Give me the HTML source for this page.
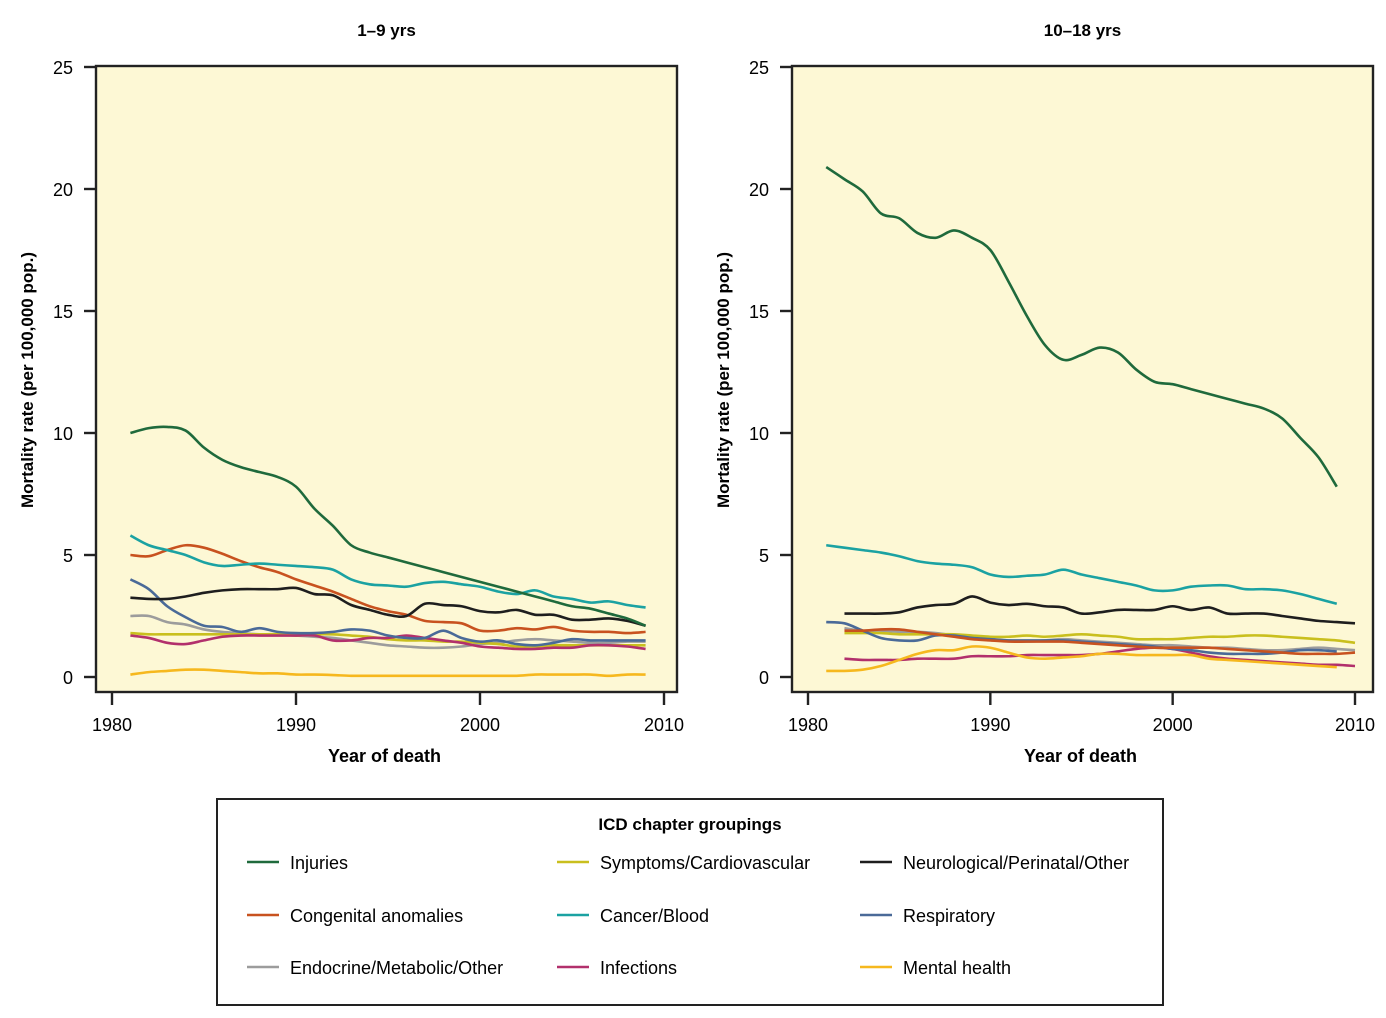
<!DOCTYPE html>
<html><head><meta charset="utf-8">
<style>
body{margin:0;background:#fff;width:1386px;height:1013px;overflow:hidden;font-family:"Liberation Sans",sans-serif;}
svg text{font-family:"Liberation Sans",sans-serif;}
</style></head>
<body>
<svg id="chart" width="1386" height="1013" xmlns="http://www.w3.org/2000/svg"></svg>
<script>
const years1=[1981,1982,1983,1984,1985,1986,1987,1988,1989,1990,1991,1992,1993,1994,1995,1996,1997,1998,1999,2000,2001,2002,2003,2004,2005,2006,2007,2008,2009];
const years2=[1981,1982,1983,1984,1985,1986,1987,1988,1989,1990,1991,1992,1993,1994,1995,1996,1997,1998,1999,2000,2001,2002,2003,2004,2005,2006,2007,2008,2009,2010];
const xTicks=[1980,1990,2000,2010];
const yTicks=[0,5,10,15,20,25];
const seriesNames=["Injuries","Symptoms/Cardiovascular","Neurological/Perinatal/Other","Congenital anomalies","Cancer/Blood","Respiratory","Endocrine/Metabolic/Other","Infections","Mental health"];
const seriesColors=["#1f6a3c","#c9bf1e","#1e1e1e","#c8521f","#1ba2a2","#4a6a98","#9c9c9c","#b2306c","#f6b81e"];
const left={
"Injuries":[10.0,10.2,10.25,10.1,9.4,8.9,8.6,8.4,8.2,7.8,6.9,6.2,5.4,5.1,4.9,4.7,4.5,4.3,4.1,3.9,3.7,3.5,3.3,3.1,2.9,2.8,2.6,2.4,2.1],
"Cancer/Blood":[5.8,5.4,5.2,5.0,4.7,4.55,4.6,4.65,4.6,4.55,4.5,4.4,4.0,3.8,3.75,3.7,3.85,3.9,3.8,3.7,3.5,3.4,3.55,3.3,3.2,3.05,3.1,2.95,2.85],
"Congenital anomalies":[5.0,4.95,5.2,5.4,5.3,5.05,4.75,4.5,4.3,4.0,3.75,3.5,3.2,2.9,2.7,2.55,2.3,2.25,2.2,1.9,1.9,2.0,1.95,2.05,1.9,1.85,1.85,1.8,1.85],
"Neurological/Perinatal/Other":[3.25,3.2,3.2,3.3,3.45,3.55,3.6,3.6,3.6,3.65,3.4,3.35,2.95,2.75,2.55,2.5,3.0,2.95,2.9,2.7,2.65,2.75,2.55,2.55,2.35,2.35,2.4,2.3,2.1],
"Respiratory":[4.0,3.6,2.9,2.45,2.1,2.05,1.85,2.0,1.85,1.8,1.8,1.85,1.95,1.9,1.7,1.6,1.6,1.9,1.6,1.45,1.5,1.35,1.3,1.4,1.55,1.5,1.5,1.5,1.5],
"Endocrine/Metabolic/Other":[2.5,2.5,2.25,2.15,1.95,1.85,1.8,1.75,1.75,1.7,1.65,1.6,1.5,1.4,1.3,1.25,1.2,1.2,1.25,1.35,1.4,1.5,1.55,1.5,1.45,1.4,1.4,1.45,1.45],
"Symptoms/Cardiovascular":[1.8,1.75,1.75,1.75,1.75,1.75,1.75,1.75,1.75,1.7,1.75,1.75,1.7,1.65,1.55,1.5,1.5,1.45,1.45,1.4,1.35,1.25,1.25,1.3,1.3,1.3,1.3,1.3,1.3],
"Infections":[1.7,1.6,1.4,1.35,1.5,1.65,1.7,1.7,1.7,1.7,1.7,1.5,1.5,1.6,1.6,1.7,1.6,1.5,1.4,1.25,1.2,1.15,1.15,1.2,1.2,1.3,1.3,1.25,1.15],
"Mental health":[0.1,0.2,0.25,0.3,0.3,0.25,0.2,0.15,0.15,0.1,0.1,0.08,0.05,0.05,0.05,0.05,0.05,0.05,0.05,0.05,0.05,0.05,0.1,0.1,0.1,0.1,0.05,0.1,0.1]
};
const right={
"Injuries":[20.9,20.4,19.9,19.0,18.8,18.2,18.0,18.3,18.0,17.5,16.2,14.8,13.6,13.0,13.2,13.5,13.3,12.6,12.1,12.0,11.8,11.6,11.4,11.2,11.0,10.6,9.8,9.0,7.8,null],
"Cancer/Blood":[5.4,5.3,5.2,5.1,4.95,4.75,4.65,4.6,4.5,4.2,4.1,4.15,4.2,4.4,4.2,4.05,3.9,3.75,3.55,3.55,3.7,3.75,3.75,3.6,3.6,3.55,3.4,3.2,3.0,null],
"Neurological/Perinatal/Other":[null,2.6,2.6,2.6,2.65,2.85,2.95,3.0,3.3,3.05,2.95,3.0,2.9,2.85,2.6,2.65,2.75,2.75,2.75,2.9,2.75,2.85,2.6,2.6,2.6,2.5,2.4,2.3,2.25,2.2],
"Respiratory":[2.25,2.2,1.9,1.6,1.5,1.5,1.7,1.7,1.6,1.55,1.5,1.5,1.5,1.5,1.45,1.4,1.35,1.3,1.25,1.15,1.1,1.0,0.95,0.95,0.95,1.0,1.1,1.1,1.05,null],
"Symptoms/Cardiovascular":[null,1.8,1.8,1.8,1.75,1.75,1.75,1.75,1.7,1.65,1.65,1.7,1.65,1.7,1.75,1.7,1.65,1.55,1.55,1.55,1.6,1.65,1.65,1.7,1.7,1.65,1.6,1.55,1.5,1.4],
"Congenital anomalies":[null,1.9,1.9,1.95,1.95,1.85,1.75,1.65,1.55,1.5,1.45,1.45,1.45,1.45,1.4,1.35,1.3,1.25,1.2,1.2,1.2,1.2,1.15,1.1,1.05,1.0,0.95,0.95,0.95,1.0],
"Endocrine/Metabolic/Other":[null,2.0,1.9,1.9,1.85,1.85,1.8,1.7,1.6,1.55,1.5,1.45,1.5,1.55,1.5,1.45,1.4,1.35,1.3,1.3,1.25,1.2,1.2,1.15,1.1,1.1,1.15,1.2,1.15,1.1],
"Infections":[null,0.75,0.7,0.7,0.7,0.75,0.75,0.75,0.85,0.85,0.85,0.9,0.9,0.9,0.9,0.95,1.05,1.15,1.2,1.15,1.0,0.85,0.75,0.7,0.65,0.6,0.55,0.5,0.5,0.45],
"Mental health":[0.25,0.25,0.3,0.45,0.7,0.95,1.1,1.1,1.25,1.2,1.0,0.8,0.75,0.8,0.85,0.95,0.95,0.9,0.9,0.9,0.9,0.75,0.7,0.65,0.6,0.55,0.5,0.45,0.4,null]
};
const NS="http://www.w3.org/2000/svg";
const svg=document.getElementById('chart');
function mk(tag,attrs,parent,text){const e=document.createElementNS(NS,tag);for(const k in attrs)e.setAttribute(k,attrs[k]);if(text!==undefined)e.textContent=text;(parent||svg).appendChild(e);return e;}
function smooth(pts){if(pts.length<2)return "";let d="M"+pts[0][0]+","+pts[0][1];for(let i=0;i<pts.length-1;i++){const p0=pts[i-1]||pts[i],p1=pts[i],p2=pts[i+1],p3=pts[i+2]||p2;const c1x=p1[0]+(p2[0]-p0[0])/6,c1y=p1[1]+(p2[1]-p0[1])/6,c2x=p2[0]-(p3[0]-p1[0])/6,c2y=p2[1]-(p3[1]-p1[1])/6;d+=" C"+c1x+","+c1y+" "+c2x+","+c2y+" "+p2[0]+","+p2[1];}return d;}
const order=["Endocrine/Metabolic/Other","Symptoms/Cardiovascular","Infections","Respiratory","Congenital anomalies","Mental health","Neurological/Perinatal/Other","Cancer/Blood","Injuries"];
function panel(id,title,L,x1980,x2010,years,data){
  const R=L+581,T=66,B=692;
  const xS=v=>x1980+(v-1980)*(x2010-x1980)/30;
  const yS=v=>677-v*24.4;
  const g=mk('g',{});
  
  
  const bg=mk('rect',{x:L,y:T,width:R-L,height:B-T,fill:'#fdf8d5'},g);
  
  const t=mk('text',{x:(L+R)/2,y:36,'text-anchor':'middle','font-size':17,'font-weight':'bold'},g,title);
  
  const clipId=id+'-clip';const cp=mk('clipPath',{id:clipId},g);mk('rect',{x:L,y:T,width:R-L,height:B-T},cp);
  const lg=mk('g',{'clip-path':'url(#'+clipId+')'},g);
  order.forEach(name=>{
    const vals=data[name];const pts=[];
    years.forEach((yr,i)=>{if(vals[i]!==null&&vals[i]!==undefined)pts.push([xS(yr),yS(vals[i])]);});
    const p=mk('path',{d:smooth(pts),fill:'none',stroke:seriesColors[seriesNames.indexOf(name)],'stroke-width':2.6,'stroke-linejoin':'round'},lg);
    
    
  });
  mk('rect',{x:L,y:T,width:R-L,height:B-T,fill:'none',stroke:'#222','stroke-width':2.4},g);
  yTicks.forEach(v=>{
    mk('line',{x1:L-12,x2:L,y1:yS(v),y2:yS(v),stroke:'#222','stroke-width':2.4},g);
    const tl=mk('text',{x:L-23,y:yS(v)+7,'text-anchor':'end','font-size':18},g,String(v));
    
  });
  xTicks.forEach(v=>{
    mk('line',{x1:xS(v),x2:xS(v),y1:B,y2:B+13,stroke:'#222','stroke-width':2.4},g);
    const tl=mk('text',{x:xS(v),y:B+39,'text-anchor':'middle','font-size':18},g,String(v));
    
  });
  const xt=mk('text',{x:(L+R)/2-2,y:762,'text-anchor':'middle','font-size':18,'font-weight':'bold'},g,'Year of death');
  
  const yt=mk('text',{x:0,y:0,'text-anchor':'middle','font-size':17,'font-weight':'bold',transform:'translate('+(L-63)+',380) rotate(-90)'},g,'Mortality rate (per 100,000 pop.)');
  
}
panel('panel-1-9-yrs','1–9 yrs',96,112,664,years1,left);
panel('panel-10-18-yrs','10–18 yrs',792,808,1355,years2,right);
const lg=mk('g',{});


mk('rect',{x:217,y:799,width:946,height:206,fill:'#fff',stroke:'#222','stroke-width':2},lg);
const lt=mk('text',{x:690,y:830,'text-anchor':'middle','font-size':17,'font-weight':'bold'},lg,'ICD chapter groupings');

const colX=[247,557,860],rowY=[862,915,967];
seriesNames.forEach((n,i)=>{
  const cx=colX[i%3],cy=rowY[Math.floor(i/3)];
  const e=mk('g',{},lg);
  
  
  mk('line',{x1:cx,x2:cx+32,y1:cy,y2:cy,stroke:seriesColors[i],'stroke-width':2.6},e);
  mk('text',{x:cx+43,y:cy+7,'font-size':18},e,n);
});
</script>
</body></html>
